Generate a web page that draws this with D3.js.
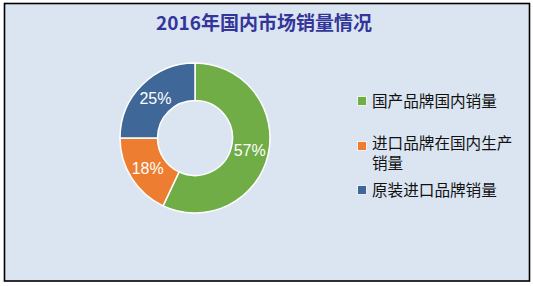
<!DOCTYPE html>
<html><head><meta charset="utf-8">
<script src="https://cdn.jsdelivr.net/npm/d3@7"></script>
<style>html,body{margin:0;padding:0;background:#fff;}</style>
</head><body>
<svg id="c" width="533" height="286"></svg>
<script>
const title = "2016年国内市场销量情况";
const categories = ["国产品牌国内销量", "进口品牌在国内生产销量", "原装进口品牌销量"];
const legendLines = [["国产品牌国内销量"], ["进口品牌在国内生产", "销量"], ["原装进口品牌销量"]];
const values = [57, 18, 25];
const colors = ["#70AD47", "#ED7D31", "#3F6899"];

const svg = d3.select("#c");
svg.append("rect").attr("x", 4.5).attr("y", 3.5).attr("width", 525).attr("height", 277.5)
  .attr("fill", "#DBE5F2").attr("stroke", "#000").attr("stroke-width", 1.6);

svg.append("text").attr("x", 264).attr("y", 30)
  .attr("text-anchor", "middle")
  .attr("font-family", "'Noto Sans CJK SC', sans-serif")
  .attr("font-weight", "bold").attr("font-size", 19)
  .attr("fill", "#33359A").text(title);

const cx = 195, cy = 138, R = 75, r = 37.5;
const pie = d3.pie().sort(null).value(d => d);
const arc = d3.arc().innerRadius(r).outerRadius(R);
const labelArc = d3.arc().innerRadius(56).outerRadius(56);
const total = d3.sum(values);
const g = svg.append("g").attr("transform", `translate(${cx},${cy})`);
const arcs = pie(values);
g.selectAll("path").data(arcs).join("path")
  .attr("d", arc).attr("fill", (d, i) => colors[i])
  .attr("stroke", "#fff").attr("stroke-width", 1.5);
g.selectAll("text").data(arcs).join("text")
  .attr("transform", d => `translate(${labelArc.centroid(d)})`)
  .attr("text-anchor", "middle").attr("dy", "0.36em")
  .attr("font-family", "'Liberation Sans', Arial, sans-serif")
  .attr("font-size", 16).attr("fill", "#fff")
  .text(d => Math.round(d.data / total * 100) + "%");

const legendY = [101, 143, 190];
const lg = svg.append("g");
categories.forEach((c, i) => {
  const y0 = legendY[i];
  const sqY = legendLines[i].length > 1 ? y0 + 3 : y0;
  lg.append("rect").attr("x", 357.5).attr("y", sqY - 4.5).attr("width", 9).attr("height", 9)
    .attr("fill", colors[i]).attr("stroke", "#fff").attr("stroke-width", 0.8);
  const t = lg.append("text")
    .attr("font-family", "'Noto Sans CJK SC', sans-serif")
    .attr("font-size", 15.6).attr("fill", "#111");
  legendLines[i].forEach((ln, j) => {
    t.append("tspan").attr("x", 372).attr("y", y0 + j * 20).attr("dy", "0.36em").text(ln);
  });
});
</script>
</body></html>
